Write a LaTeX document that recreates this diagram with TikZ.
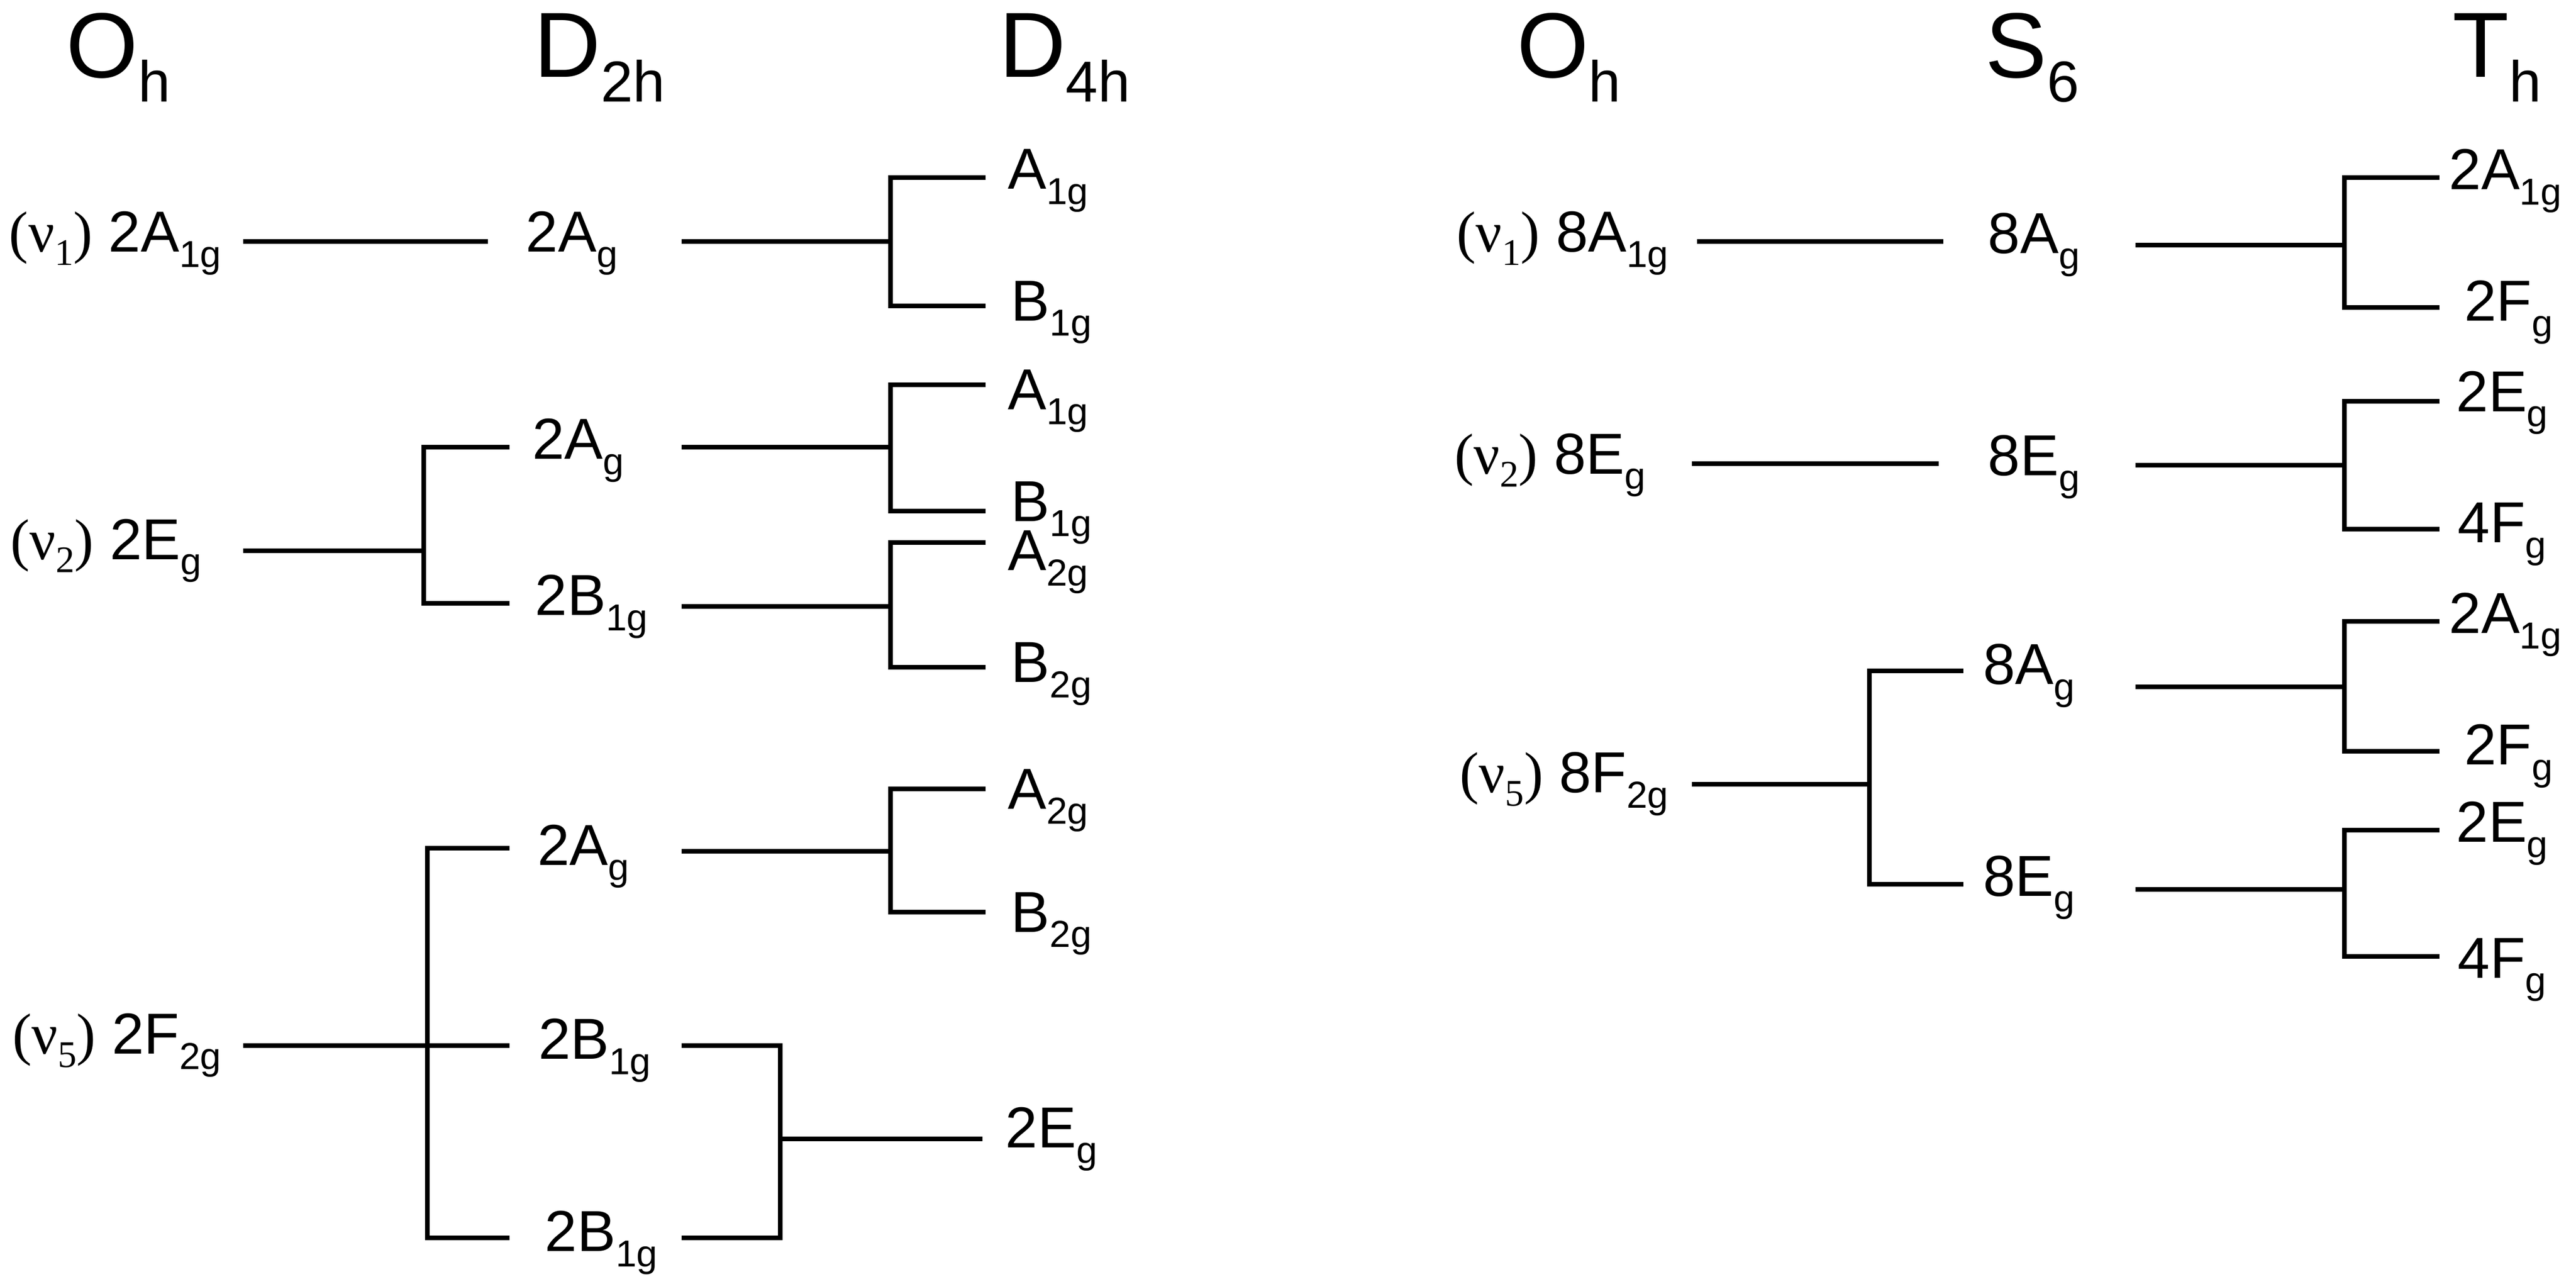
\documentclass[tikz,border=0pt]{standalone}
\usepackage{fontspec}
\setmainfont{Liberation Sans}
\newfontfamily\serf{Liberation Serif}
\newcommand{\sbs}[1]{\raisebox{-0.5ex}{\fontsize{6.5pt}{7pt}\selectfont #1}}
\newcommand{\hsb}[1]{\raisebox{-0.5ex}{\fontsize{10pt}{11pt}\selectfont #1}}
\newcommand{\nuu}[1]{{\serf(ν\sbs{#1})}}
\begin{document}
\begin{tikzpicture}[x=0.01cm,y=-0.01cm,line width=0.8pt,
 hd/.style={font=\fontsize{16pt}{18pt}\selectfont},
 lb/.style={font=\fontsize{10pt}{12pt}\selectfont,inner sep=0pt}]
\useasboundingbox (0,0) rectangle (1568,781);
% headers
\node[hd] (h1) at (72,35) {O\hsb{h}};
\node[hd] (h2) at (365,35) {D\hsb{2h}};
\node[hd] (h3) at (648,35) {D\hsb{4h}};
\node[hd] (h4) at (955,35) {O\hsb{h}};
\node[hd] (h5) at (1237,35) {S\hsb{6}};
\node[hd] (h6) at (1520,35) {T\hsb{h}};
% left labels
\node[lb,anchor=east] (l1) at (136,148) {\nuu{1} 2A\sbs{1g}};
\node[lb,anchor=east] (l2) at (124,335) {\nuu{2} 2E\sbs{g}};
\node[lb,anchor=east] (l5) at (136,636) {\nuu{5} 2F\sbs{2g}};
\node[lb] (a1) at (348,148) {2A\sbs{g}};
\node[lb] (a2) at (352,274) {2A\sbs{g}};
\node[lb] (a3) at (360,369) {2B\sbs{1g}};
\node[lb] (a4) at (355,521) {2A\sbs{g}};
\node[lb] (a5) at (362,639) {2B\sbs{1g}};
\node[lb] (a6) at (366,756) {2B\sbs{1g}};
\node[lb] (b1) at (638,110) {A\sbs{1g}};
\node[lb] (b2) at (640,190) {B\sbs{1g}};
\node[lb] (b3) at (638,244) {A\sbs{1g}};
\node[lb] (b4) at (640,312) {B\sbs{1g}};
\node[lb] (b5) at (638,342) {A\sbs{2g}};
\node[lb] (b6) at (640,410) {B\sbs{2g}};
\node[lb] (b7) at (638,487) {A\sbs{2g}};
\node[lb] (b8) at (640,562) {B\sbs{2g}};
\node[lb] (b9) at (640,693) {2E\sbs{g}};
\draw (148,147)--(297,147) (415,147)--(542,147);
\draw (600,108)--(542,108)--(542,186)--(600,186);
\draw (148,335)--(258,335) (310,272)--(258,272)--(258,367)--(310,367);
\draw (415,272)--(542,272) (600,234)--(542,234)--(542,311)--(600,311);
\draw (415,369)--(542,369) (600,330)--(542,330)--(542,406)--(600,406);
\draw (148,636)--(310,636) (310,516)--(260,516)--(260,753)--(310,753);
\draw (415,518)--(542,518) (600,480)--(542,480)--(542,555)--(600,555);
\draw (415,636)--(475,636)--(475,753)--(415,753) (475,693)--(598,693);
% right
\node[lb,anchor=east] (r1) at (1017,148) {\nuu{1} 8A\sbs{1g}};
\node[lb,anchor=east] (r2) at (1003,283) {\nuu{2} 8E\sbs{g}};
\node[lb,anchor=east] (r5) at (1017,477) {\nuu{5} 8F\sbs{2g}};
\node[lb] (s1) at (1238,149) {8A\sbs{g}};
\node[lb] (s2) at (1238,284) {8E\sbs{g}};
\node[lb] (s3) at (1235,411) {8A\sbs{g}};
\node[lb] (s4) at (1235,540) {8E\sbs{g}};
\node[lb] (t1) at (1525,110) {2A\sbs{1g}};
\node[lb] (t2) at (1527,190) {2F\sbs{g}};
\node[lb] (t3) at (1523,245) {2E\sbs{g}};
\node[lb] (t4) at (1523,325) {4F\sbs{g}};
\node[lb] (t5) at (1525,380) {2A\sbs{1g}};
\node[lb] (t6) at (1527,460) {2F\sbs{g}};
\node[lb] (t7) at (1523,507) {2E\sbs{g}};
\node[lb] (t8) at (1523,590) {4F\sbs{g}};
\draw (1033,147)--(1183,147) (1300,149)--(1427,149);
\draw (1485,108)--(1427,108)--(1427,187)--(1485,187);
\draw (1030,282)--(1180,282) (1300,283)--(1427,283);
\draw (1485,244)--(1427,244)--(1427,322)--(1485,322);
\draw (1030,477)--(1138,477) (1195,408)--(1138,408)--(1138,538)--(1195,538);
\draw (1300,418)--(1427,418) (1485,378)--(1427,378)--(1427,457)--(1485,457);
\draw (1300,541)--(1427,541) (1485,505)--(1427,505)--(1427,582)--(1485,582);
\end{tikzpicture}
\end{document}
